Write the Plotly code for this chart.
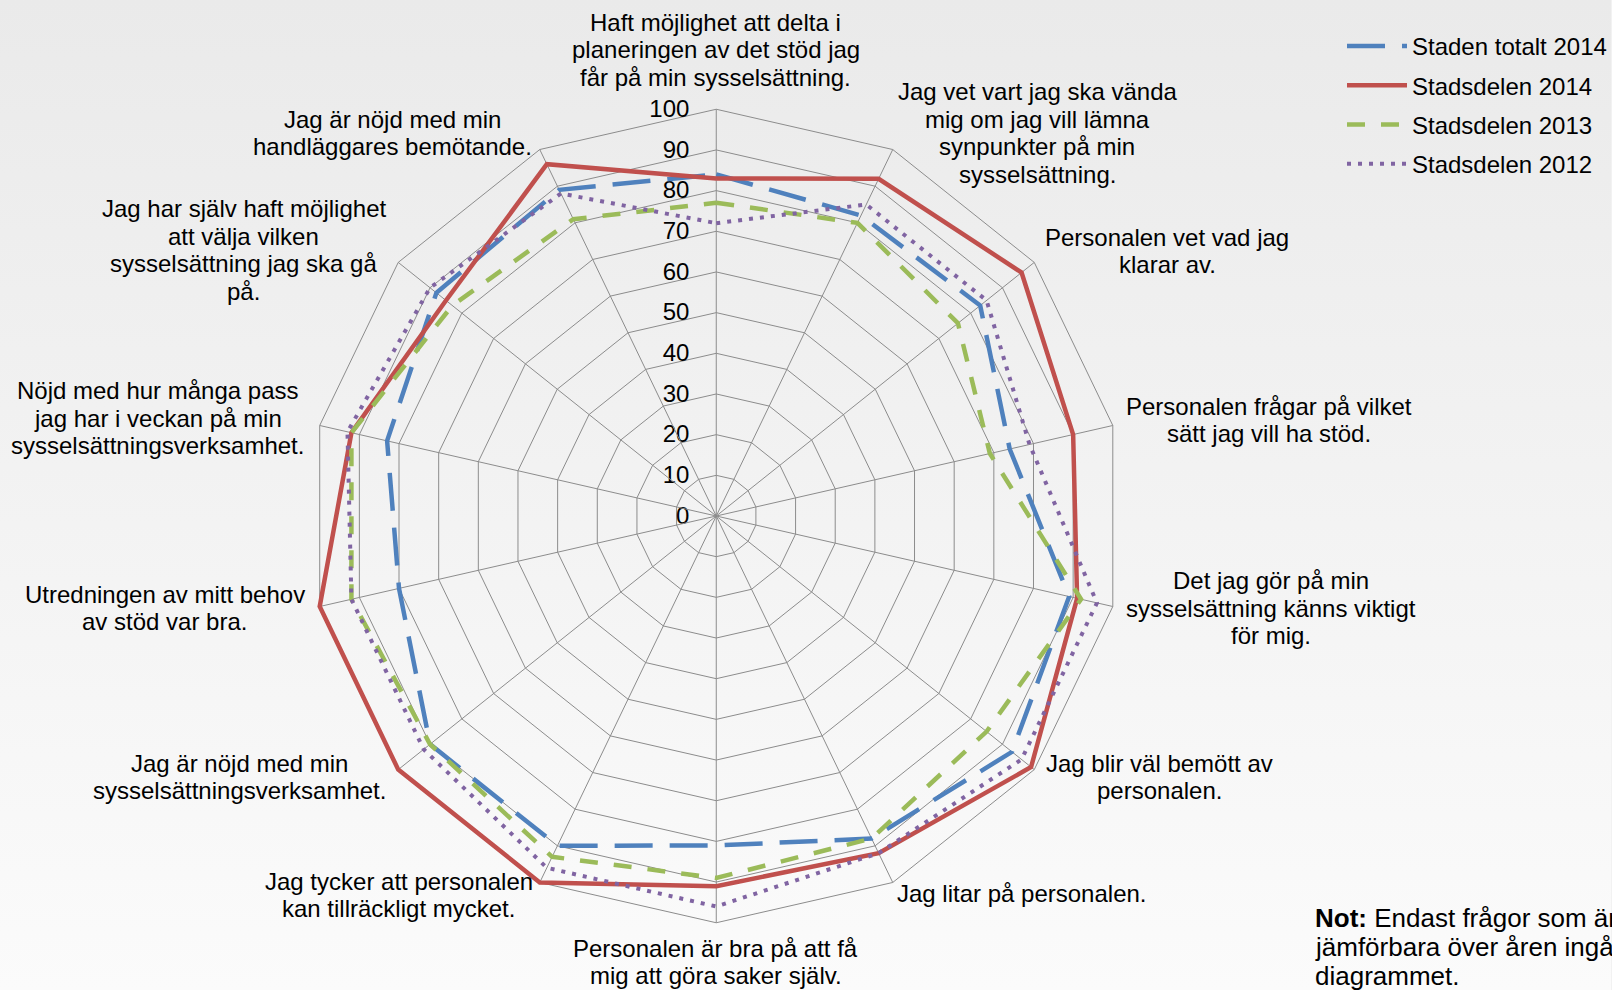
import base64
import plotly.graph_objects as go

# ---------------- data ----------------
categories = [
    "Haft möjlighet att delta i<br>planeringen av det stöd jag<br>får på min sysselsättning.",
    "Jag vet vart jag ska vända<br>mig om jag vill lämna<br>synpunkter på min<br>sysselsättning.",
    "Personalen vet vad jag<br>klarar av.",
    "Personalen frågar på vilket<br>sätt jag vill ha stöd.",
    "Det jag gör på min<br>sysselsättning känns viktigt<br>för mig.",
    "Jag blir väl bemött av<br>personalen.",
    "Jag litar på personalen.",
    "Personalen är bra på att få<br>mig att göra saker själv.",
    "Jag tycker att personalen<br>kan tillräckligt mycket.",
    "Jag är nöjd med min<br>sysselsättningsverksamhet.",
    "Utredningen av mitt behov<br>av stöd var bra.",
    "Nöjd med hur många pass<br>jag har i veckan på min<br>sysselsättningsverksamhet.",
    "Jag har själv haft möjlighet<br>att välja vilken<br>sysselsättning jag ska gå<br>på.",
    "Jag är nöjd med min<br>handläggares bemötande.",
]

staden_totalt_2014 = [84, 82, 83, 74, 89, 93, 88, 81, 90, 90, 80, 83, 88, 89]
stadsdelen_2014 = [83, 92, 96, 90, 91, 99, 92, 91, 100, 100, 100, 92, 85, 96]
stadsdelen_2013 = [77, 80, 76, 69, 92, 85, 88, 89, 93, 90, 92, 92, 83, 81]
stadsdelen_2012 = [72, 85, 85, 79, 96, 96, 92, 96, 96, 92, 92, 93, 90, 88]

series_names = ["Staden totalt 2014", "Stadsdelen 2014", "Stadsdelen 2013", "Stadsdelen 2012"]
radial_ticks = [0, 10, 20, 30, 40, 50, 60, 70, 80, 90, 100]

note_lines = ["<b>Not:</b> Endast frågor som är", "jämförbara över åren ingår i", "diagrammet."]

# ---------------- layout / style ----------------
W, H = 1612, 990
FONT = "Liberation Sans, Arial, sans-serif"
FS = 24
LS = 27.5  # line spacing in px
GRID = "#8c8c8c"
RMAX = radial_ticks[-1]
RANGE_MAX = RMAX * 1.012  # small headroom so lines on the outer ring are not clipped

styles = [
    dict(color="#4F81BD", width=4.5, dash="38px,17px"),
    dict(color="#C0504D", width=4.5, dash="solid"),
    dict(color="#9BBB59", width=4.5, dash="18px,16px"),
    dict(color="#8064A2", width=4, dash="4px,7px"),
]

# label block centres in pixels (layout only)
label_px = [
    (716, 50), (1038, 133), (1168, 251), (1270, 420), (1272, 608),
    (1160, 777), (1023, 893), (716, 962), (399, 895), (240, 777),
    (165, 608), (158, 418), (244, 250), (393, 133),
]

fig = go.Figure()

# spokes from centre to the outer ring (grid decoration)
spoke_r, spoke_t = [], []
for c in categories:
    spoke_r += [0, RMAX, None]
    spoke_t += [c, c, None]
fig.add_trace(go.Scatterpolar(
    r=spoke_r, theta=spoke_t, mode="lines", showlegend=False, hoverinfo="skip",
    line=dict(color=GRID, width=1), connectgaps=False,
))

all_series = [staden_totalt_2014, stadsdelen_2014, stadsdelen_2013, stadsdelen_2012]
for name, vals, st in zip(series_names, all_series, styles):
    fig.add_trace(go.Scatterpolar(
        r=vals + vals[:1],
        theta=categories + categories[:1],
        mode="lines",
        name=name,
        line=dict(color=st["color"], width=st["width"], dash=st["dash"]),
        legendgroup=name,
        hoverinfo="skip",
        cliponaxis=False,
    ))

annotations = []
for cat, (px, py) in zip(categories, label_px):
    lines = cat.split("<br>")
    n = len(lines)
    for i, ln in enumerate(lines):
        ly = py - (n - 1) / 2 * LS + i * LS
        annotations.append(dict(
            text=ln, x=px / W, y=1 - ly / H, xref="paper", yref="paper",
            xanchor="center", yanchor="middle", showarrow=False,
            font=dict(family=FONT, size=FS, color="#000000"),
        ))
for i, ln in enumerate(note_lines):
    ly = 918 + i * 28.8
    annotations.append(dict(
        text=ln, x=1314 / W, y=1 - ly / H, xref="paper", yref="paper",
        xanchor="left", yanchor="middle", showarrow=False,
        font=dict(family=FONT, size=26, color="#000000"),
    ))

svg = (
    '<svg xmlns="http://www.w3.org/2000/svg" width="100" height="100" preserveAspectRatio="none">'
    '<defs><linearGradient id="g" x1="0" y1="0" x2="0" y2="1">'
    '<stop offset="0" stop-color="#eaeaea"/><stop offset="1" stop-color="#fbfbfb"/>'
    '</linearGradient></defs><rect width="100" height="100" fill="url(#g)"/></svg>'
)
bg_src = "data:image/svg+xml;base64," + base64.b64encode(svg.encode()).decode()

cx, cy = 716.7, 516
R = 407 * RANGE_MAX / RMAX
fig.update_layout(
    width=W, height=H,
    margin=dict(l=0, r=0, t=0, b=0),
    paper_bgcolor="#f2f2f2",
    font=dict(family=FONT, size=FS, color="#000000"),
    images=[dict(source=bg_src, xref="paper", yref="paper", x=0, y=1,
                 sizex=1, sizey=1, sizing="stretch", layer="below", xanchor="left", yanchor="top")],
    polar=dict(
        domain=dict(x=[(cx - R) / W, (cx + R) / W], y=[1 - (cy + R) / H, 1 - (cy - R) / H]),
        bgcolor="rgba(0,0,0,0)",
        gridshape="linear",
        radialaxis=dict(
            range=[0, RANGE_MAX], tickvals=radial_ticks, angle=90, side="counterclockwise",
            showline=False,
            gridcolor=GRID, gridwidth=1,
            ticks="outside", ticklen=18, tickcolor="rgba(0,0,0,0)",
            tickfont=dict(family=FONT, size=FS, color="#000000"),
            tickangle=90, layer="below traces",
        ),
        angularaxis=dict(
            direction="clockwise", rotation=90, showticklabels=False, ticks="",
            showline=False, showgrid=False, layer="below traces",
        ),
    ),
    legend=dict(
        x=1343 / W, y=1 - 24 / H, xanchor="left", yanchor="top",
        bgcolor="rgba(0,0,0,0)", font=dict(family=FONT, size=FS, color="#000000"),
        tracegroupgap=5, itemwidth=60,
    ),
    annotations=annotations,
)

fig.write_html(
    "out.html",
    config={"displayModeBar": False},
    post_script="document.body.style.margin='0';document.body.style.padding='0';",
)
